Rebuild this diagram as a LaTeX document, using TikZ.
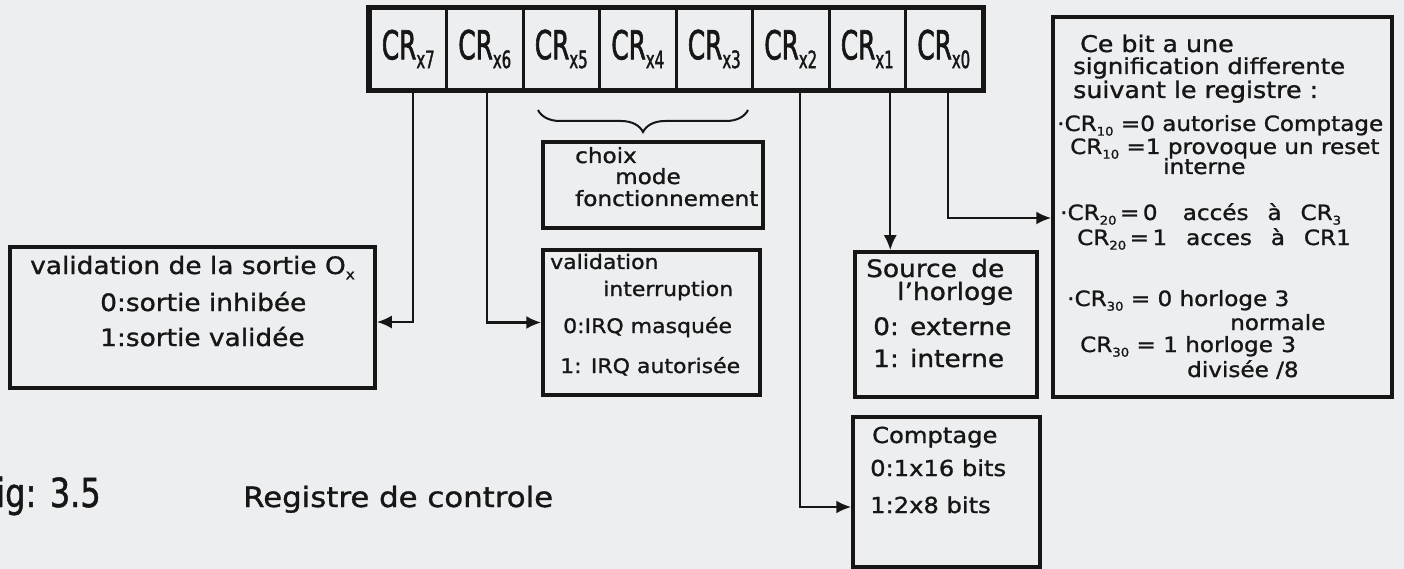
\documentclass[tikz,border=0pt]{standalone}
\usepackage{fontspec}
\setmainfont{DejaVu Sans}[FakeStretch=1.1,FakeBold=1.2]
\newfontfamily\capfont{DejaVu Sans}[FakeStretch=0.8,FakeBold=1.2]
\newfontfamily\regfont{DejaVu Sans}[FakeStretch=0.62,FakeBold=1.5]
\usetikzlibrary{arrows.meta,decorations.pathreplacing}
\definecolor{paper}{RGB}{236,238,240}
\definecolor{ink}{RGB}{22,22,22}
\newcommand\fsz[1]{\fontsize{#1}{#1}\selectfont}
\newcommand\lowidx[2][12]{\raisebox{-0.22em}{\fsz{#1}#2}}
\begin{document}
\begin{tikzpicture}[x=1pt,y=-1pt,
  cell/.style={draw=ink,line width=3pt,minimum width=76.5pt,minimum height=81pt,
    inner sep=0pt,font=\regfont\fsz{40},text=ink},
  box/.style={draw=ink,line width=3.5pt,inner sep=0pt},
  txt/.style={anchor=base west,inner sep=0pt,text=ink},
  conn/.style={draw=ink,line width=2.4pt,-{Latex[length=15pt,width=13pt]}},
  bracestyle/.style={draw=ink,line width=2pt,decorate,
    decoration={brace,amplitude=22pt}}]
\path[fill=paper] (0,0) rectangle (1404,569);
\useasboundingbox (0,0) rectangle (1404,569);

% register cells CRx7 ... CRx0
\foreach \i/\b in {0/7,1/6,2/5,3/4,4/3,5/2,6/1,7/0}
  \node[cell] (c\b) at ({370+76.5*\i+38.25},49) {CR\lowidx[24]{x\b}};
\draw[ink,line width=4.5pt] (c7.north west) rectangle (c0.south east);

% brace under CRx5..CRx3
\draw[bracestyle] (748,110) -- (538,110);

% boxes
\node[box,minimum width=365pt,minimum height=141pt] (sortie) at (192.5,317.5) {};
\node[box,minimum width=220pt,minimum height=86pt] (choix) at (653,185) {};
\node[box,minimum width=217pt,minimum height=145pt] (inter) at (651.5,322.5) {};
\node[box,minimum width=182pt,minimum height=145pt] (src) at (946,324.5) {};
\node[box,minimum width=187pt,minimum height=150pt] (compt) at (946.5,492) {};
\node[box,minimum width=339pt,minimum height=380pt] (big) at (1222.5,207) {};

% texts of the boxes
\node[txt,font=\fsz{24}] (s1) at (30,274) {validation de la sortie O\lowidx[14]{x}};
\node[txt,font=\fsz{24}] (s2) at (100,311) {0:sortie inhibée};
\node[txt,font=\fsz{24}] (s3) at (100,346) {1:sortie validée};

\node[txt,font=\fsz{21}] (ch1) at (575,163) {choix};
\node[txt,font=\fsz{21}] (ch2) at (615,184) {mode};
\node[txt,font=\fsz{21}] (ch3) at (575,206) {fonctionnement};

\node[txt,font=\fsz{20}] (i1) at (550,269) {validation};
\node[txt,font=\fsz{20}] (i2) at (603,296) {interruption};
\node[txt,font=\fsz{20}] (i3) at (563,333) {0:IRQ masquée};
\node[txt,font=\fsz{20}] (i4) at (560,373) {1: IRQ autorisée};

\node[txt,font=\fsz{24}] (r1) at (866,277) {Source\hspace{0.6em}de};
\node[txt,font=\fsz{24}] (r2) at (897,300) {l'horloge};
\node[txt,font=\fsz{24}] (r3) at (873,335) {0: externe};
\node[txt,font=\fsz{24}] (r4) at (873,367) {1: interne};

\node[txt,font=\fsz{22}] (k1) at (872,443) {Comptage};
\node[txt,font=\fsz{22}] (k2) at (870,476) {0:1x16 bits};
\node[txt,font=\fsz{22}] (k3) at (870,513) {1:2x8 bits};

\node[txt,font=\fsz{23}] (b1) at (1080,52) {Ce bit a une};
\node[txt,font=\fsz{22}] (b2) at (1073,74) {signification differente};
\node[txt,font=\fsz{23}] (b3) at (1073,98) {suivant le registre :};
\node[txt,font=\fsz{21}] (b4) at (1057,131) {·CR\lowidx{10} =0 autorise Comptage};
\node[txt,font=\fsz{21}] (b5) at (1070,154) {CR\lowidx{10} =1 provoque un reset};
\node[txt,font=\fsz{21}] (b6) at (1163,174) {interne};
\node[txt,font=\fsz{21}] (b7) at (1060,220) {·CR\lowidx{20}\,=\,0\hspace{1.2em}accés\hspace{0.9em}à\hspace{0.9em}CR\lowidx{3}};
\node[txt,font=\fsz{21}] (b8) at (1077,245) {CR\lowidx{20}\,=\,1\hspace{0.9em}acces\hspace{0.9em}à\hspace{0.9em}CR1};
\node[txt,font=\fsz{21}] (b9) at (1067,306) {·CR\lowidx{30} = 0 horloge 3};
\node[txt,font=\fsz{21}] (b10) at (1230,330) {normale};
\node[txt,font=\fsz{21}] (b11) at (1080,352) {CR\lowidx{30} = 1 horloge\hspace{0.4em}3};
\node[txt,font=\fsz{21}] (b12) at (1187,377) {divisée /8};

% caption
\node[txt,font=\capfont\fsz{40}] (fig) at (-20,507) {Fig: 3.5};
\node[txt,font=\fsz{28}] (title) at (243,507) {Registre de controle};

% connectors from the bits to their boxes
\coordinate (t7) at ([xshift=5pt]c7.south);
\coordinate (t6) at ([xshift=2pt]c6.south);
\coordinate (t2) at ([xshift=9pt]c2.south);
\coordinate (t1) at ([xshift=23pt]c1.south);
\coordinate (t0) at ([xshift=4pt]c0.south);
\draw[conn] (t7) |- ([yshift=-4.5pt]sortie.east);
\draw[conn] (t6) |- (inter.west);
\draw[conn] (t2) |- ([yshift=-15pt]compt.west);
\draw[conn] (t1) -- (t1 |- src.north);
\draw[conn] (t0) |- ([yshift=-11pt]big.west);
\end{tikzpicture}
\end{document}
